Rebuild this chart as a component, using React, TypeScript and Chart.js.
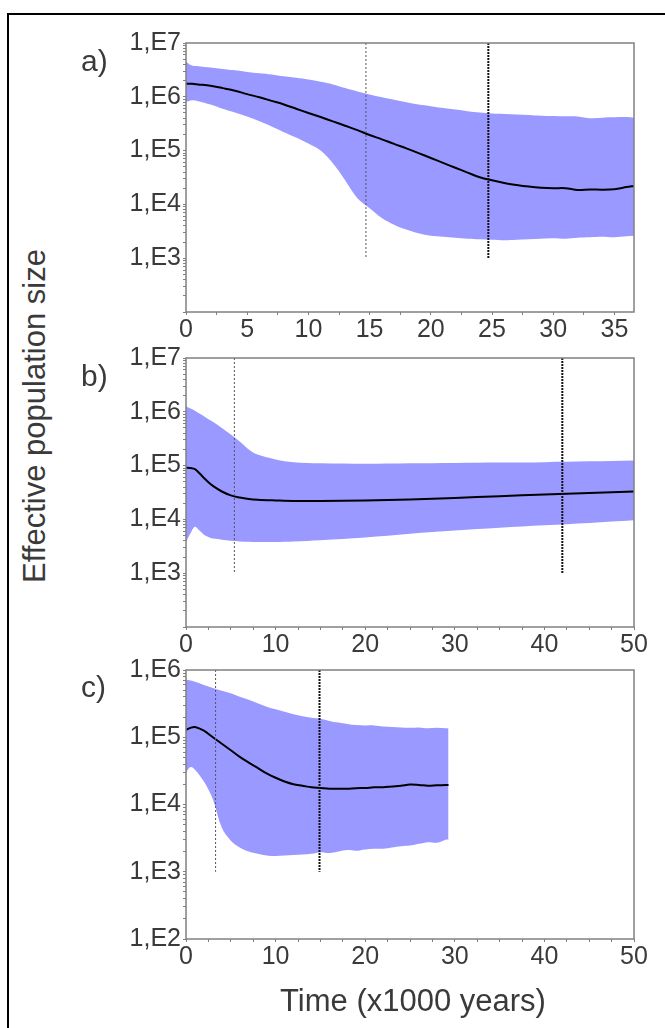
import React, { useEffect, useRef } from 'react';
import { Chart, registerables } from 'chart.js';

Chart.register(...registerables);

// ---------- Panel a ----------
const aTime = [0, 0.5, 1, 2, 3, 4, 5, 6, 7, 8, 9, 10, 11, 12, 13, 14, 15, 16, 17, 18, 19, 20, 21, 22, 23, 24, 25, 26, 27, 28, 29, 30, 31, 32, 33, 34, 35, 36, 36.6];
const aMedian = [1.75e6, 1.75e6, 1.7e6, 1.6e6, 1.45e6, 1.3e6, 1.12e6, 9.8e5, 8.4e5, 7.2e5, 6.0e5, 5.0e5, 4.2e5, 3.5e5, 2.9e5, 2.4e5, 1.95e5, 1.62e5, 1.33e5, 1.1e5, 9.0e4, 7.3e4, 5.9e4, 4.8e4, 3.9e4, 3.2e4, 2.8e4, 2.5e4, 2.3e4, 2.15e4, 2.05e4, 2.0e4, 2.0e4, 1.85e4, 1.9e4, 1.88e4, 1.92e4, 2.1e4, 2.2e4];
const aUpper = [4.5e6, 3.8e6, 3.7e6, 3.5e6, 3.3e6, 3.1e6, 2.9e6, 2.75e6, 2.6e6, 2.4e6, 2.25e6, 2.1e6, 1.9e6, 1.7e6, 1.45e6, 1.25e6, 1.1e6, 9.8e5, 8.8e5, 7.9e5, 7.2e5, 6.7e5, 6.2e5, 5.8e5, 5.4e5, 5.1e5, 4.9e5, 4.8e5, 4.7e5, 4.6e5, 4.45e5, 4.4e5, 4.35e5, 4.3e5, 4.0e5, 4.1e5, 4.15e5, 4.2e5, 4.1e5];
const aLower = [8.0e5, 8.6e5, 8.3e5, 7.2e5, 6.0e5, 5.1e5, 4.3e5, 3.5e5, 2.8e5, 2.2e5, 1.75e5, 1.35e5, 1.0e5, 5.8e4, 2.8e4, 1.3e4, 8.5e3, 5.6e3, 4.2e3, 3.4e3, 2.9e3, 2.6e3, 2.5e3, 2.4e3, 2.3e3, 2.25e3, 2.2e3, 2.15e3, 2.2e3, 2.25e3, 2.3e3, 2.35e3, 2.3e3, 2.4e3, 2.45e3, 2.5e3, 2.45e3, 2.55e3, 2.6e3];
const aMarkers = [14.7, 24.7];

// ---------- Panel b ----------
const bTime = [0, 0.5, 1, 1.5, 2, 2.5, 3, 4, 5, 6, 7, 8, 10, 12, 15, 20, 25, 30, 35, 40, 45, 50];
const bMedian = [9.2e4, 9.0e4, 8.6e4, 7.2e4, 5.9e4, 4.9e4, 4.2e4, 3.3e4, 2.8e4, 2.55e4, 2.4e4, 2.32e4, 2.25e4, 2.2e4, 2.2e4, 2.25e4, 2.35e4, 2.5e4, 2.7e4, 2.9e4, 3.1e4, 3.3e4];
const bUpper = [1.25e6, 1.15e6, 1.05e6, 9.3e5, 8.3e5, 7.3e5, 6.5e5, 5.0e5, 3.8e5, 2.8e5, 2.0e5, 1.6e5, 1.3e5, 1.15e5, 1.1e5, 1.08e5, 1.1e5, 1.12e5, 1.14e5, 1.16e5, 1.2e5, 1.25e5];
const bLower = [3.8e3, 5.5e3, 7.3e3, 6.2e3, 5.2e3, 4.7e3, 4.4e3, 4.2e3, 4.0e3, 3.9e3, 3.85e3, 3.8e3, 3.8e3, 3.9e3, 4.1e3, 4.6e3, 5.4e3, 6.2e3, 7.0e3, 7.8e3, 8.6e3, 9.6e3];
const bMarkers = [5.4, 42.0];

// ---------- Panel c ----------
const cTime = [0, 0.5, 1, 2, 3, 4, 5, 6, 7, 8, 9, 10, 11, 12, 13, 14, 15, 16, 17, 18, 19, 20, 21, 22, 23, 24, 25, 26, 27, 28, 29, 29.3];
const cMedian = [1.28e5, 1.38e5, 1.42e5, 1.25e5, 1.0e5, 8.0e4, 6.4e4, 5.1e4, 4.2e4, 3.5e4, 2.9e4, 2.5e4, 2.2e4, 2.0e4, 1.9e4, 1.8e4, 1.76e4, 1.72e4, 1.72e4, 1.72e4, 1.75e4, 1.76e4, 1.8e4, 1.8e4, 1.85e4, 1.9e4, 1.98e4, 1.95e4, 1.9e4, 1.93e4, 1.95e4, 1.95e4];
const cUpper = [7.2e5, 7.0e5, 6.7e5, 6.0e5, 5.4e5, 4.9e5, 4.5e5, 4.0e5, 3.6e5, 3.2e5, 2.85e5, 2.6e5, 2.4e5, 2.2e5, 2.05e5, 1.95e5, 1.88e5, 1.75e5, 1.65e5, 1.58e5, 1.52e5, 1.5e5, 1.5e5, 1.45e5, 1.42e5, 1.4e5, 1.38e5, 1.4e5, 1.36e5, 1.38e5, 1.36e5, 1.35e5];
const cLower = [3.0e4, 3.6e4, 3.3e4, 2.2e4, 1.2e4, 4.5e3, 2.9e3, 2.3e3, 2.0e3, 1.85e3, 1.75e3, 1.72e3, 1.75e3, 1.78e3, 1.8e3, 1.85e3, 1.95e3, 1.9e3, 2.0e3, 2.1e3, 2.05e3, 2.15e3, 2.2e3, 2.2e3, 2.3e3, 2.4e3, 2.45e3, 2.6e3, 2.75e3, 2.7e3, 3.0e3, 3.0e3];
const cMarkers = [3.3, 14.9];

// ---------- Tick labels ----------
const xTickLabelsA = ['0', '5', '10', '15', '20', '25', '30', '35'];
const xTickLabelsBC = ['0', '10', '20', '30', '40', '50'];
const yTickValuesAB = [1e3, 1e4, 1e5, 1e6, 1e7];
const yTickLabelsAB = ['1,E3', '1,E4', '1,E5', '1,E6', '1,E7'];
const yTickValuesC = [1e2, 1e3, 1e4, 1e5, 1e6];
const yTickLabelsC = ['1,E2', '1,E3', '1,E4', '1,E5', '1,E6'];

const FONT = '"Liberation Sans", Arial, Helvetica, sans-serif';
const TEXT = '#3a3a3a';
const BAND = 'rgb(153,153,255)';
const AXIS = '#808080';

type PanelCfg = {
  time: number[];
  median: number[];
  upper: number[];
  lower: number[];
  markers: number[];
  markerBottom: number;
  xMax: number;
  yMin: number;
  yMax: number;
  xLabels: string[];
  yValues: number[];
  yLabels: string[];
  top: number;
  height: number;
};

const PAD_TOP = 30;
const X_AXIS_H = 40;
const CANVAS_LEFT = 100;
const CANVAS_W = 565;
const Y_AXIS_W = 86;
const PAD_RIGHT = 31;

const frameBox = {
  id: 'frameBox',
  afterDatasetsDraw(chart: any) {
    const { ctx, chartArea } = chart;
    ctx.save();
    ctx.strokeStyle = AXIS;
    ctx.lineWidth = 1.5;
    ctx.strokeRect(chartArea.left, chartArea.top, chartArea.right - chartArea.left, chartArea.bottom - chartArea.top);
    ctx.restore();
  },
};

function Panel({ cfg }: { cfg: PanelCfg }) {
  const ref = useRef<HTMLCanvasElement | null>(null);
  useEffect(() => {
    if (!ref.current) return;
    const zip = (ys: number[]) => cfg.time.map((t, i) => ({ x: t, y: ys[i] }));
    const markerSets = cfg.markers.map((m, i) => ({
      type: 'line' as const,
      data: [
        { x: m, y: cfg.yMax },
        { x: m, y: cfg.markerBottom },
      ],
      borderColor: i === 0 ? '#555555' : '#111111',
      borderWidth: i === 0 ? 1 : 2,
      borderDash: i === 0 ? [2, 2] : [2, 1],
      pointRadius: 0,
      fill: false,
      order: 0,
    }));
    const chart = new Chart(ref.current, {
      type: 'line',
      data: {
        datasets: [
          {
            data: zip(cfg.upper),
            borderWidth: 0,
            borderColor: 'rgba(0,0,0,0)',
            backgroundColor: BAND,
            fill: '+1',
            pointRadius: 0,
            tension: 0.35,
            order: 3,
          },
          {
            data: zip(cfg.lower),
            borderWidth: 0,
            borderColor: 'rgba(0,0,0,0)',
            fill: false,
            pointRadius: 0,
            tension: 0.35,
            order: 4,
          },
          {
            data: zip(cfg.median),
            borderColor: '#000000',
            borderWidth: 2,
            fill: false,
            pointRadius: 0,
            tension: 0.35,
            order: 1,
          },
          ...markerSets,
        ] as any,
      },
      options: {
        animation: false,
        responsive: false,
        events: [],
        layout: { padding: { top: PAD_TOP, right: PAD_RIGHT, left: 0, bottom: 0 } },
        plugins: {
          legend: { display: false },
          tooltip: { enabled: false },
          filler: { drawTime: 'beforeDatasetsDraw' } as any,
        },
        scales: {
          x: {
            type: 'linear',
            min: 0,
            max: cfg.xMax,
            border: { display: false },
            grid: { drawOnChartArea: false, drawTicks: true, tickLength: 3, color: AXIS, lineWidth: 1 },
            afterBuildTicks: (scale: any) => {
              const t: any[] = [];
              for (let v = 0; v <= cfg.xMax + 1e-9; v += 2.5) t.push({ value: v });
              scale.ticks = t;
            },
            afterFit: (scale: any) => {
              scale.height = X_AXIS_H;
            },
            ticks: {
              autoSkip: false,
              maxRotation: 0,
              minRotation: 0,
              padding: 0,
              color: TEXT,
              font: { family: FONT, size: 25 },
              callback: (value: any) => {
                const s = String(Math.round(Number(value) * 100) / 100);
                return cfg.xLabels.includes(s) ? s : '';
              },
            },
          },
          y: {
            type: 'logarithmic',
            min: cfg.yMin,
            max: cfg.yMax,
            border: { display: false },
            grid: { drawOnChartArea: false, drawTicks: true, tickLength: 3, color: AXIS, lineWidth: 1 },
            afterBuildTicks: (scale: any) => {
              const t: any[] = [];
              const e0 = Math.round(Math.log10(cfg.yMin));
              const e1 = Math.round(Math.log10(cfg.yMax));
              for (let e = e0; e < e1; e++) {
                for (let m = 1; m <= 9; m++) t.push({ value: m * Math.pow(10, e) });
              }
              t.push({ value: Math.pow(10, e1) });
              scale.ticks = t;
            },
            afterFit: (scale: any) => {
              scale.width = Y_AXIS_W;
            },
            ticks: {
              autoSkip: false,
              padding: 2,
              color: TEXT,
              font: { family: FONT, size: 25 },
              callback: (value: any) => {
                const v = Number(value);
                const idx = cfg.yValues.findIndex((w) => Math.abs(w - v) / w < 1e-6);
                return idx >= 0 ? cfg.yLabels[idx] : '';
              },
            },
          },
        },
      },
      plugins: [frameBox],
    });
    return () => chart.destroy();
  }, [cfg]);

  return (
    <canvas
      ref={ref}
      width={CANVAS_W}
      height={cfg.height + PAD_TOP + X_AXIS_H}
      style={{
        position: 'absolute',
        left: CANVAS_LEFT,
        top: cfg.top - PAD_TOP,
        width: CANVAS_W,
        height: cfg.height + PAD_TOP + X_AXIS_H,
      }}
    />
  );
}

const panels: PanelCfg[] = [
  {
    time: aTime, median: aMedian, upper: aUpper, lower: aLower, markers: aMarkers, markerBottom: 1e3,
    xMax: 36.6, yMin: 1e2, yMax: 1e7, xLabels: xTickLabelsA, yValues: yTickValuesAB, yLabels: yTickLabelsAB,
    top: 43, height: 269,
  },
  {
    time: bTime, median: bMedian, upper: bUpper, lower: bLower, markers: bMarkers, markerBottom: 1e3,
    xMax: 50, yMin: 1e2, yMax: 1e7, xLabels: xTickLabelsBC, yValues: yTickValuesAB, yLabels: yTickLabelsAB,
    top: 358, height: 269,
  },
  {
    time: cTime, median: cMedian, upper: cUpper, lower: cLower, markers: cMarkers, markerBottom: 1e3,
    xMax: 50, yMin: 1e2, yMax: 1e6, xLabels: xTickLabelsBC, yValues: yTickValuesC, yLabels: yTickLabelsC,
    top: 670, height: 269,
  },
];

const panelLetters = ['a)', 'b)', 'c)'];
const letterTops = [46, 361, 672];

export default function App() {
  return (
    <div
      style={{
        position: 'fixed',
        left: 0,
        top: 0,
        width: 665,
        height: 1028,
        overflow: 'hidden',
        background: '#ffffff',
        fontFamily: FONT,
      }}
    >
      <div
        style={{
          position: 'absolute',
          left: 7,
          top: 13,
          width: 800,
          height: 1200,
          borderLeft: '2px solid #000',
          borderTop: '2px solid #000',
        }}
      />
      {panels.map((p, i) => (
        <Panel key={i} cfg={p} />
      ))}
      {panelLetters.map((l, i) => (
        <div
          key={l}
          style={{
            position: 'absolute',
            left: 81,
            top: letterTops[i],
            fontSize: 30,
            lineHeight: '30px',
            color: TEXT,
            whiteSpace: 'nowrap',
          }}
        >
          {l}
        </div>
      ))}
      <div
        style={{
          position: 'absolute',
          left: 35 - 200,
          top: 416 - 18,
          width: 400,
          height: 36,
          lineHeight: '36px',
          fontSize: 31,
          textAlign: 'center',
          color: TEXT,
          transform: 'rotate(-90deg)',
          whiteSpace: 'nowrap',
        }}
      >
        Effective population size
      </div>
      <div
        style={{
          position: 'absolute',
          left: 413 - 200,
          top: 983,
          width: 400,
          height: 36,
          lineHeight: '36px',
          fontSize: 31,
          textAlign: 'center',
          color: TEXT,
          whiteSpace: 'nowrap',
        }}
      >
        Time (x1000 years)
      </div>
    </div>
  );
}
